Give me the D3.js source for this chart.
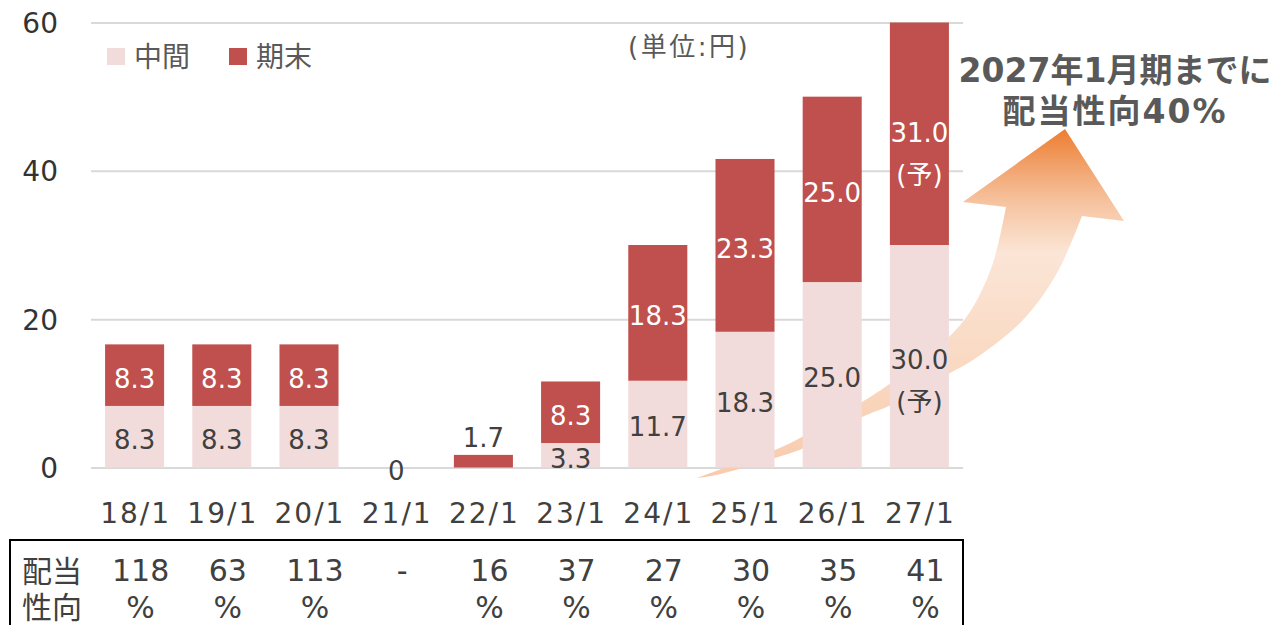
<!DOCTYPE html>
<html>
<head>
<meta charset="utf-8">
<script src="https://cdn.jsdelivr.net/npm/d3@7"></script>
<style>
  body { margin: 0; background: #fff; }
  text { font-family: "DejaVu Sans", "Noto Sans CJK JP", sans-serif; }
</style>
</head>
<body>
<div id="chart"></div>
<script>
// data
var categories = ["18/1", "19/1", "20/1", "21/1", "22/1", "23/1", "24/1", "25/1", "26/1", "27/1"];
var midValues = [8.3, 8.3, 8.3, 0, 0, 3.3, 11.7, 18.3, 25.0, 30.0];
var endValues = [8.3, 8.3, 8.3, 0, 1.7, 8.3, 18.3, 23.3, 25.0, 31.0];
var midLabels = ["8.3", "8.3", "8.3", "", "", "3.3", "11.7", "18.3", "25.0", "30.0|(予)"];
var endLabels = ["8.3", "8.3", "8.3", "0", "1.7", "8.3", "18.3", "23.3", "25.0", "31.0|(予)"];
var payoutRatios = ["118", "63", "113", "-", "16", "37", "27", "30", "35", "41"];
var yTicks = [0, 20, 40, 60];
var seriesNames = ["中間", "期末"];

var width = 1274, height = 625;
var colors = { mid: "#F2DCDB", end: "#C0504D" };

var svg = d3.select("#chart").append("svg")
    .attr("width", width)
    .attr("height", height);

var x = d3.scaleBand().domain(categories).range([91, 963])
    .paddingInner(0.323).paddingOuter(0.1615);
var y = d3.scaleLinear().domain([0, 60]).range([467.5, 22.5]).clamp(true);

var rows = categories.map(function(c, i) {
    return { cat: c, mid: midValues[i], end: endValues[i], i: i };
});
var stacked = d3.stack().keys(["mid", "end"])(rows);

// gridlines + y labels
var yAxis = svg.append("g")
    .attr("transform", "translate(91,0)")
    .call(d3.axisLeft(y).tickValues(yTicks).tickSize(-872).tickPadding(33));
yAxis.select(".domain").remove();
yAxis.selectAll("line").attr("stroke", "#D9D9D9").attr("stroke-width", 2);
yAxis.selectAll("text")
    .attr("font-size", 28).attr("fill", "#333")
    .attr("font-family", "DejaVu Sans").attr("dy", "0.36em");

// gradient arrow (annotation)
var defs = svg.append("defs");
var grad = defs.append("linearGradient").attr("id", "arrowGrad")
    .attr("gradientUnits", "userSpaceOnUse")
    .attr("x1", 0).attr("y1", 478).attr("x2", 0).attr("y2", 129);
[[0, "#F8CBAD"], [0.3, "#F9D8C0"], [0.645, "#FBE5D6"], [0.79, "#F6C39F"], [0.854, "#F3AF80"], [1, "#ED7D31"]]
    .forEach(function(s) {
        grad.append("stop").attr("offset", s[0]).attr("stop-color", s[1]);
    });

var upperEdge = [[697, 478], [716, 471], [775, 450], [804, 436], [862, 402], [891, 383], [949, 337], [973, 307], [993, 263], [1006, 207]];
var arrowHead = [[963, 202], [1065, 129], [1124, 221], [1082, 216]];
var lowerEdge = [[1082, 216], [1057, 273], [1023, 320], [973, 360], [950, 373], [891, 405], [862, 417], [804, 448], [775, 458], [716, 475], [697, 478]];
var edge = d3.line().curve(d3.curveCatmullRom);
var arrowPath = edge(upperEdge) +
    arrowHead.map(function(p) { return "L" + p[0] + "," + p[1]; }).join("") +
    edge(lowerEdge).replace(/^M/, "L") + "Z";
svg.append("path").attr("d", arrowPath).attr("fill", "url(#arrowGrad)");

// bars
svg.selectAll(".series")
    .data(stacked)
    .enter().append("g")
    .attr("class", "series")
    .attr("fill", function(d) { return colors[d.key]; })
    .selectAll("rect")
    .data(function(d) { return d; })
    .enter().append("rect")
    .attr("x", function(d) { return x(d.data.cat); })
    .attr("y", function(d) { return y(d[1]); })
    .attr("width", x.bandwidth())
    .attr("height", function(d) { return y(d[0]) - y(d[1]); });

// value labels
function drawLabels(layer, labels, insideColor) {
    layer.forEach(function(d, i) {
        var txt = labels[i];
        if (!txt) return;
        var v = d[1] - d[0];
        var cx = x(d.data.cat) + x.bandwidth() / 2;
        var cy, fill;
        if (v === 0) { cy = y(d[0]) + 3; fill = "#404040"; }
        else if (v < 3) { cy = y(d[1]) - 17; fill = "#404040"; }
        else { cy = y((d[0] + d[1]) / 2) + 3; fill = insideColor; }
        var t = svg.append("text")
            .attr("x", cx).attr("y", cy)
            .attr("text-anchor", "middle")
            .attr("font-size", 26)
            .attr("fill", fill);
        txt.split("|").forEach(function(line, k) {
            t.append("tspan").attr("x", cx).attr("dy", k === 0 ? "0.36em" : 42).text(line);
        });
    });
}
drawLabels(stacked[0], midLabels, "#404040");
drawLabels(stacked[1], endLabels, "#FFFFFF");

// x labels
svg.selectAll(".xlab")
    .data(categories)
    .enter().append("text")
    .attr("class", "xlab")
    .attr("x", function(d) { return x(d) + x.bandwidth() / 2 + 1; })
    .attr("y", 513)
    .attr("dy", "0.36em")
    .attr("text-anchor", "middle")
    .attr("font-size", 28)
    .attr("letter-spacing", 2)
    .attr("fill", "#404040")
    .text(function(d) { return d; });

// legend
var legend = svg.append("g");
seriesNames.forEach(function(name, i) {
    var lx = i === 0 ? 107 : 229;
    legend.append("rect").attr("x", lx).attr("y", 48).attr("width", 18).attr("height", 17)
        .attr("fill", i === 0 ? colors.mid : colors.end);
    legend.append("text").attr("x", lx + 27).attr("y", 57).attr("dy", "0.35em")
        .attr("font-size", 28).attr("fill", "#595959").text(name);
});

svg.append("text").attr("x", 628).attr("y", 47).attr("dy", "0.35em")
    .attr("font-size", 26).attr("letter-spacing", 2.5).attr("fill", "#595959").text("(単位:円)");

// annotation
svg.append("text").attr("x", 1115).attr("y", 70).attr("dy", "0.35em")
    .attr("text-anchor", "middle").attr("font-size", 33).attr("font-weight", "bold")
    .attr("fill", "#595959").text("2027年1月期までに");
svg.append("text").attr("x", 1115).attr("y", 111).attr("dy", "0.35em")
    .attr("text-anchor", "middle").attr("font-size", 33).attr("font-weight", "bold")
    .attr("letter-spacing", 2).attr("fill", "#595959").text("配当性向40%");

// payout ratio table
svg.append("rect").attr("x", 10).attr("y", 540).attr("width", 953).attr("height", 120)
    .attr("fill", "none").attr("stroke", "#000").attr("stroke-width", 2);
svg.append("text").attr("x", 22).attr("y", 571).attr("dy", "0.35em")
    .attr("font-size", 30).attr("fill", "#404040").text("配当");
svg.append("text").attr("x", 22).attr("y", 607).attr("dy", "0.35em")
    .attr("font-size", 30).attr("fill", "#404040").text("性向");
payoutRatios.forEach(function(p, i) {
    var cx = x(categories[i]) + x.bandwidth() / 2 + 6;
    svg.append("text").attr("x", cx).attr("y", 570).attr("dy", "0.36em")
        .attr("text-anchor", "middle").attr("font-size", 30).attr("fill", "#404040").text(p);
    if (p !== "-") {
        svg.append("text").attr("x", cx).attr("y", 607).attr("dy", "0.36em")
            .attr("text-anchor", "middle").attr("font-size", 30).attr("fill", "#404040").text("%");
    }
});
</script>
</body>
</html>
